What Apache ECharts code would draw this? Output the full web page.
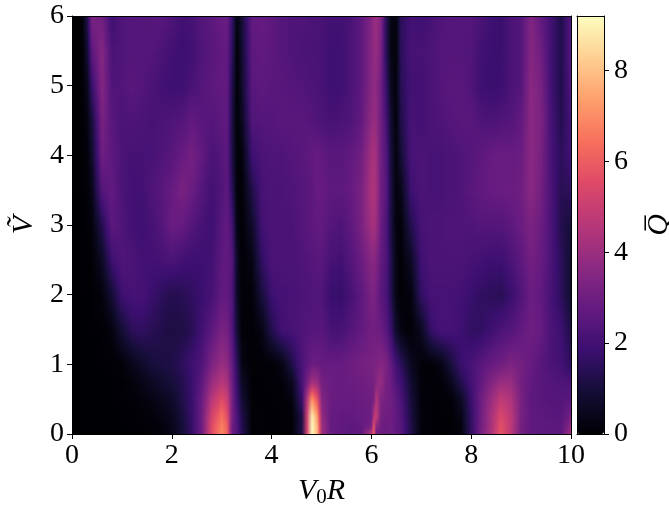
<!DOCTYPE html>
<html>
<head>
<meta charset="utf-8">
<style>html,body{margin:0;padding:0;background:#fff}#c{width:669px;height:510px}</style>
<script src="https://cdn.jsdelivr.net/npm/echarts@6/dist/echarts.min.js"></script>
</head>
<body>
<div id="c"></div>
<script>
const xValues = [0,.2,.3,.4,.6,.8,1,1.2,1.4,1.6,
  1.8,2,2.2,2.4,2.6,2.8,3,3.1,3.2,3.3,
  3.4,3.6,3.8,4,4.2,4.4,4.6,4.8,4.9,5,
  5.2,5.4,5.6,5.8,6,6.05,6.1,6.2,6.3,6.4,
  6.5,6.6,6.8,7,7.2,7.4,7.6,7.8,8,8.2,
  8.4,8.6,8.8,9,9.2,9.4,9.6,9.8,9.95,10];
const yValues = [6,5.5,5,4.5,4,3.5,3,2.5,2,1.5,1,.75,.5,.25,.1,0];
const xTicks = [0,2,4,6,8,10];
const yTicks = [0,1,2,3,4,5,6];
const colorbarTicks = [0,2,4,6,8];
const qMax = 9.2;
const magma = ['#000004','#140e36','#3b0f70','#641a80','#8c2981','#b73779','#de4968','#f7705c','#fe9f6d','#fecf92','#fcfdbf'];

const q_y6_0 = [0,.05,1.2,3.3,3.0,1.9,2.3,2.4,2.4,2.45, 2.5,2.3,2.0,2.1,2.4,2.6,2.85,2.9,1.8,.2, .9,2.7,2.8,2.6,2.4,2.3,2.3,2.2,2.2,2.15, 2.0,2.0,2.2,2.6,3.4,3.8,4.0,3.4,1.5,.3, .2,1.5,2.0,1.9,2.1,2.3,2.4,2.4,2.4,2.2, 1.9,1.8,2.2,2.4,3.4,2.7,2.0,1.2,2.2,2.4];
const q_y5_5 = [0,.03,.8,2.6,3.5,2.2,2.3,2.4,2.4,2.4, 2.2,2.0,1.85,2.0,2.3,2.5,2.7,2.7,1.6,.1, .8,2.6,2.7,2.6,2.4,2.3,2.2,2.15,2.15,2.1, 1.9,1.9,2.2,2.6,3.5,3.8,3.9,3.2,1.5,.3, .15,1.5,2.1,2.1,2.2,2.4,2.4,2.4,2.3,2.0, 1.85,1.8,2.2,2.4,3.5,3.0,2.0,1.2,2.2,2.4];
const q_y5_0 = [0,.02,.4,1.8,3.5,2.3,2.35,2.5,2.4,2.2, 2.0,1.9,1.9,2.15,2.4,2.6,2.7,2.7,1.3,.05, .7,2.5,2.6,2.5,2.5,2.4,2.35,2.25,2.2,2.1, 1.9,1.9,2.2,2.6,3.5,3.7,3.7,3.0,1.8,.5, .15,1.4,2.0,2.0,2.2,2.4,2.5,2.5,2.3,1.9, 1.8,1.85,2.2,2.4,3.6,3.2,2.0,1.2,2.1,2.4];
const q_y4_5 = [0,.01,.2,1.0,3.2,2.5,2.2,2.3,2.2,2.1, 2.2,2.3,2.4,2.7,2.5,2.4,2.6,2.7,1.2,.05, .5,2.3,2.4,2.4,2.5,2.5,2.5,2.4,2.3,2.2, 2.1,2.2,2.3,2.7,3.7,3.9,3.8,3.0,2.1,.8, .15,1.2,2.1,2.0,2.2,2.3,2.4,2.5,2.5,2.3, 2.2,2.3,2.4,2.7,3.6,3.3,2.1,1.3,1.9,2.2];
const q_y4_0 = [0,.01,.1,.7,3.0,2.6,2.2,2.05,2.1,2.1, 2.3,2.5,2.8,3.1,2.7,2.2,2.4,2.6,1.2,.1, .15,1.9,2.2,2.3,2.3,2.4,2.5,2.7,2.8,2.7, 2.5,2.5,2.7,3.0,4.1,4.3,4.1,3.0,2.4,1.0, .2,.9,2.1,2.2,2.1,2.1,2.2,2.3,2.4,2.6, 2.8,2.9,2.8,2.9,3.6,3.2,2.1,1.5,1.9,2.0];
const q_y3_5 = [0,.01,.05,.4,2.4,2.7,2.2,2.0,2.0,2.3, 2.5,2.8,3.2,2.9,2.4,2.0,2.3,2.6,1.5,.15, .05,1.2,2.1,2.2,2.2,2.3,2.4,2.6,2.8,2.8, 2.6,2.6,2.8,3.2,4.3,4.4,4.2,3.0,2.5,1.1, .2,.4,1.9,2.2,2.1,2.1,2.2,2.3,2.5,2.7, 2.8,2.9,2.9,3.0,3.6,3.1,2.2,1.4,1.5,1.7];
const q_y3_0 = [0,0,.02,.15,1.3,2.6,2.3,2.0,1.9,2.1, 2.4,2.9,2.8,2.4,2.1,1.9,2.5,2.7,2.1,.3, .03,.7,2.0,2.2,2.2,2.2,2.4,2.6,2.7,2.7, 2.4,2.3,2.6,3.2,4.1,4.2,4.0,2.9,2.3,1.1, .2,.1,1.3,2.1,2.2,2.2,2.3,2.3,2.3,2.4, 2.4,2.4,2.6,2.9,3.3,2.9,2.2,1.3,1.0,1.1];
const q_y2_5 = [0,0,.01,.05,.6,1.9,2.3,2.2,2.0,2.0, 2.1,2.2,2.0,1.9,1.9,2.0,2.6,2.7,2.4,.6, .03,.3,1.6,2.2,2.2,2.2,2.3,2.4,2.5,2.5, 2.1,2.0,2.4,2.9,3.5,3.6,3.4,2.7,2.3,1.3, .3,.05,.6,1.9,2.2,2.2,2.2,2.2,2.1,2.0, 1.9,1.9,2.2,2.6,3.1,2.8,2.2,1.5,.9,.8];
const q_y2_0 = [0,0,0,.01,.15,.9,1.9,2.1,2.1,1.8, 1.5,1.3,1.4,1.6,1.8,2.1,2.7,2.7,2.3,.6, .05,.1,1.0,1.9,2.1,2.1,2.2,2.3,2.3,2.3, 1.8,1.7,2.1,2.6,3.2,3.3,3.1,2.5,2.2,1.3, .3,.03,.2,1.6,2.1,2.1,2.1,2.0,1.8,1.6, 1.5,1.4,1.8,2.3,2.9,2.7,2.1,1.5,.9,.8];
const q_y1_5 = [0,0,0,0,.02,.2,.9,1.5,1.6,1.4, 1.25,1.1,1.15,1.4,2.0,2.6,3.2,3.1,2.4,.9, .1,.03,.3,1.3,2.0,2.1,2.3,2.4,2.4,2.5, 2.1,2.1,2.4,2.7,3.0,3.0,3.0,2.9,2.5,1.8, .7,.25,.05,.5,1.7,2.1,2.1,1.9,1.6,1.6, 1.9,2.2,2.4,2.7,3.0,2.8,2.2,1.9,1.3,1.2];
const q_y1_0 = [0,0,0,0,0,.02,.1,.4,.7,1.0, 1.1,1.2,1.5,1.9,2.3,3.3,3.9,3.7,2.8,1.5, .3,.04,.04,.07,.3,1.2,2.2,2.9,2.9,2.8, 2.8,2.8,3.0,3.1,3.2,3.3,3.3,3.5,3.3,2.7, 2.0,1.5,.5,.1,.05,.3,1.0,1.8,2.1,2.5, 2.8,3.0,3.3,3.1,2.8,2.5,2.2,2.0,1.6,1.5];
const q_y0_75 = [0,0,0,0,0,0,.02,.15,.35,.6, .8,1.0,1.3,1.8,2.6,3.9,4.6,4.3,3.0,1.7, .6,.03,.02,.04,.1,.5,2.1,4.1,3.9,3.1, 2.9,2.8,2.9,3.0,3.1,3.2,3.5,3.9,3.2,2.9, 2.3,1.9,.8,.12,.03,.08,.45,1.3,2.0,2.7, 3.4,3.9,3.9,3.1,2.7,2.5,2.4,2.3,2.2,2.2];
const q_y0_5 = [0,0,0,0,0,0,.01,.05,.15,.3, .5,.7,1.2,1.8,2.9,4.6,5.5,5.0,3.2,1.9, .9,.04,.02,.03,.05,.2,1.8,7.0,5.8,3.4, 2.9,2.8,2.8,2.9,3.0,3.2,4.5,3.3,3.1,3.0, 2.6,2.2,1.0,.15,.03,.03,.1,.6,1.8,3.0, 3.9,4.8,4.4,3.2,2.6,2.5,2.4,2.4,2.5,2.6];
const q_y0_25 = [0,0,0,0,0,0,0,.01,.05,.1, .25,.5,1.0,1.7,3.0,5.3,6.4,5.7,3.2,2.2, 1.2,.06,.02,.02,.03,.06,1.2,8.9,7.4,3.8, 2.8,2.7,2.7,2.8,2.9,4.6,5.0,3.1,3.0,3.0, 2.7,2.4,1.1,.15,.03,.02,.04,.3,1.6,3.0, 4.2,5.4,4.7,3.2,2.7,2.6,2.5,2.5,3.0,3.3];
const q_y0_1 = [0,0,0,0,0,0,0,0,.01,.05, .15,.4,.9,1.7,3.0,5.6,6.8,6.1,3.0,2.3, 1.3,.08,.02,.02,.02,.05,1.2,9.1,7.8,4.0, 2.8,2.7,2.6,2.7,3.2,5.8,3.6,3.0,2.9,3.0, 2.7,2.5,1.2,.15,.03,.02,.03,.2,1.6,3.1, 4.2,5.7,4.7,3.1,2.7,2.6,2.6,2.6,3.4,4.0];
const q_y0_0 = [0,0,0,0,0,0,0,0,.01,.04, .12,.4,.9,1.7,3.0,5.6,6.9,6.1,2.9,2.4, 1.4,.08,.02,.02,.02,.05,1.2,9.1,7.8,4.0, 2.8,2.7,2.6,2.7,4.5,6.0,3.2,3.0,2.9,3.0, 2.7,2.5,1.2,.15,.03,.02,.03,.2,1.6,3.1, 4.3,5.8,4.7,3.1,2.7,2.6,2.6,2.6,3.8,4.5];
const qRows = [q_y6_0,q_y5_5,q_y5_0,q_y4_5,q_y4_0,q_y3_5,q_y3_0,q_y2_5,q_y2_0,q_y1_5,q_y1_0,q_y0_75,q_y0_5,q_y0_25,q_y0_1,q_y0_0];

const FONT = '"Liberation Serif", serif';
const stops = magma.map(h => [parseInt(h.slice(1,3),16),parseInt(h.slice(3,5),16),parseInt(h.slice(5,7),16)]);
function colorOf(v){
  const t = Math.max(0,Math.min(1,v/qMax))*(stops.length-1);
  const i = Math.min(stops.length-2,Math.floor(t)), f = t-i;
  const a = stops[i], b = stops[i+1];
  return 'rgb('+Math.round(a[0]+(b[0]-a[0])*f)+','+Math.round(a[1]+(b[1]-a[1])*f)+','+Math.round(a[2]+(b[2]-a[2])*f)+')';
}

const cells = [];
for (let r=0;r<yValues.length-1;r++) for (let c=0;c<xValues.length-1;c++) {
  cells.push([xValues[c],xValues[c+1],yValues[r+1],yValues[r],
    qRows[r+1][c],qRows[r+1][c+1],qRows[r][c],qRows[r][c+1]]);
}

function renderCell(params, api){
  const a = api.coord([api.value(0),api.value(3)]);
  const b = api.coord([api.value(1),api.value(2)]);
  const L=Math.round(a[0]),R=Math.round(b[0]),T=Math.round(a[1]),B=Math.round(b[1]);
  const bl=api.value(4),br=api.value(5),tl=api.value(6),tr=api.value(7);
  const children=[];
  for (let y=T;y<B;y+=2){
    const h=Math.min(2,B-y), f=(y+h/2-T)/(B-T);
    const l=tl+(bl-tl)*f, r=tr+(br-tr)*f, m=(l+r)/2;
    children.push({type:'rect',shape:{x:L,y:y,width:R-L,height:h},silent:true,
      style:{fill:new echarts.graphic.LinearGradient(0,0,1,0,[
        {offset:0,color:colorOf(l)},{offset:.5,color:colorOf(m)},{offset:1,color:colorOf(r)}])}});
  }
  return {type:'group',children:children};
}

const spine = {show:true,onZero:false,lineStyle:{color:'#000',width:1}};
const tick = {show:true,length:5,lineStyle:{color:'#000',width:1}};
const label = {show:true,color:'#000',fontFamily:FONT,fontSize:28};
const frameAxis = {type:'value',z:10,silent:true,axisLine:spine,axisTick:{show:false},axisLabel:{show:false},splitLine:{show:false}};

const chart = echarts.init(document.getElementById('c'),null,{renderer:'canvas'});
chart.setOption({
  animation:false,
  backgroundColor:'#fff',
  tooltip:{show:false},
  grid:[
    {left:72,top:16,width:499,height:418,outerBoundsMode:'none',containLabel:false},
    {left:577,top:16,width:27,height:418,outerBoundsMode:'none',containLabel:false}
  ],
  xAxis:[
    {type:'value',gridIndex:0,min:0,max:10,interval:2,z:10,position:'bottom',
     axisLine:spine,axisTick:tick,axisLabel:Object.assign({},label,{margin:8,customValues:xTicks}),splitLine:{show:false},
     name:'{i|V}{s|0}{i|R}',nameLocation:'middle',nameGap:41,
     nameTextStyle:{color:'#000',rich:{
       i:{fontFamily:FONT,fontStyle:'italic',fontSize:30,color:'#000'},
       s:{fontFamily:FONT,fontSize:21,color:'#000',padding:[12,0,0,0]}}}},
    Object.assign({},frameAxis,{gridIndex:0,min:0,max:10,position:'top'}),
    Object.assign({},frameAxis,{gridIndex:1,min:0,max:1,position:'bottom'}),
    Object.assign({},frameAxis,{gridIndex:1,min:0,max:1,position:'top'})
  ],
  yAxis:[
    {type:'value',gridIndex:0,min:0,max:6,interval:1,z:10,position:'left',
     axisLine:spine,axisTick:tick,axisLabel:Object.assign({},label,{margin:8,customValues:yTicks}),splitLine:{show:false},
     name:'Ṽ',nameLocation:'middle',nameGap:24,nameRotate:90,
     nameTextStyle:{color:'#000',fontFamily:FONT,fontStyle:'italic',fontSize:30}},
    Object.assign({},frameAxis,{gridIndex:0,min:0,max:6,position:'right'}),
    Object.assign({},frameAxis,{gridIndex:1,min:0,max:qMax,position:'left'}),
    {type:'value',gridIndex:1,min:0,max:qMax,z:10,position:'right',
     axisLine:spine,
     axisTick:Object.assign({},tick,{customValues:colorbarTicks}),
     axisLabel:Object.assign({},label,{margin:10,customValues:colorbarTicks}),
     splitLine:{show:false},
     name:'Q̅',nameLocation:'middle',nameGap:40,nameRotate:90,
     nameTextStyle:{color:'#000',fontFamily:FONT,fontStyle:'italic',fontSize:30}}
  ],
  visualMap:{
    type:'continuous',min:0,max:qMax,calculable:false,realtime:false,hoverLink:false,
    seriesIndex:0,dimension:4,orient:'vertical',
    left:577,top:16,itemWidth:27,itemHeight:418,padding:0,text:['',''],showLabel:false,
    textStyle:{fontSize:0},inRange:{color:magma}
  },
  series:[{
    type:'custom',xAxisIndex:0,yAxisIndex:0,coordinateSystem:'cartesian2d',
    renderItem:renderCell,data:cells,silent:true,clip:true,progressive:0,
    encode:{x:[0,1],y:[2,3]},z:2
  }]
});
</script>
</body>
</html>
